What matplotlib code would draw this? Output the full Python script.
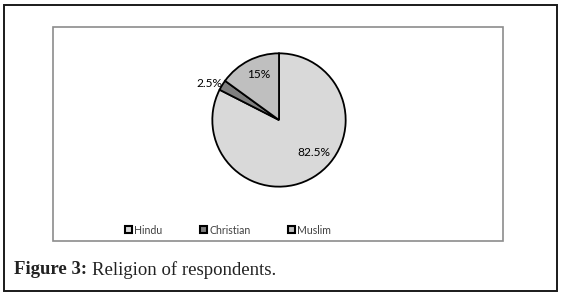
import matplotlib
matplotlib.use("Agg")
import matplotlib.pyplot as plt
from matplotlib.patches import Rectangle, Patch

categories = ["Hindu", "Christian", "Muslim"]
values = [82.5, 2.5, 15]
value_labels = ["82.5%", "2.5%", "15%"]
colors = ["#d9d9d9", "#7f7f7f", "#bfbfbf"]
# label offsets (pie radius units), layout only
label_pos = [(0.52, -0.49), (-1.05, 0.55), (-0.31, 0.69)]

W, H = 562, 297
fig = plt.figure(figsize=(W / 100, H / 100), dpi=100)

# outer border
fig.patches.append(Rectangle((4 / W, 1 - 291 / H), 553 / W, 286 / H, transform=fig.transFigure,
                             fill=False, edgecolor="#1a1a1a", linewidth=1.4))
# chart frame
fig.patches.append(Rectangle((53 / W, 1 - 241 / H), 450 / W, 214 / H, transform=fig.transFigure,
                             fill=False, edgecolor="#8c8c8c", linewidth=1.2))

cx, cy, r = 279, 120, 68
ax = fig.add_axes([(cx - r) / W, 1 - (cy + r) / H, 2 * r / W, 2 * r / H])
wedges, _ = ax.pie(values, colors=colors, startangle=90, counterclock=False,
                   wedgeprops=dict(edgecolor="black", linewidth=1.3))
ax.set_xlim(-1.02, 1.02)
ax.set_ylim(-1.02, 1.02)
ax.set_aspect("equal")
ax.axis("off")
for lab, (lx, ly) in zip(value_labels, label_pos):
    ax.text(lx, ly, lab, ha="center", va="center", fontsize=8.6, family="Lato", color="black")

handles = [Patch(facecolor=c, edgecolor="black", linewidth=1.5) for c in colors]
leg = fig.legend(handles, categories, loc="center", bbox_to_anchor=(228 / W, 1 - 230 / H), ncol=3,
                 frameon=False, prop=dict(family="Lato", size=7.6), handlelength=0.65, handleheight=0.65,
                 handletextpad=0.2, columnspacing=3.6, labelcolor="#404040")

t1 = fig.text(14 / W, 1 - 270 / H, "Figure 3:", ha="left", va="center", fontsize=13.5,
              family="Liberation Serif", fontweight="bold", color="#222222")
fig.canvas.draw()
bb = t1.get_window_extent()
fig.text((bb.x1 + 5) / W, 1 - 270 / H, "Religion of respondents.", ha="left", va="center",
         fontsize=13.5, family="Liberation Serif", color="#222222")

fig.savefig("out.png", dpi=100)
